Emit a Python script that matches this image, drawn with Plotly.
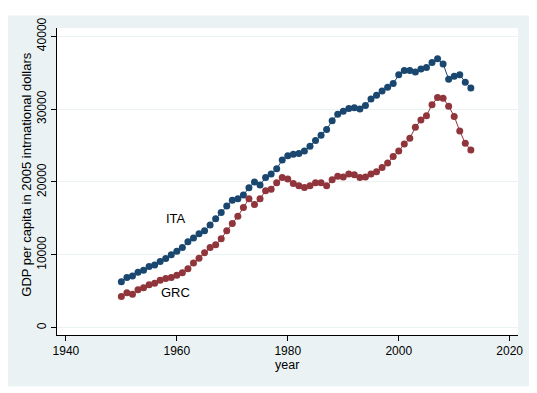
import plotly.graph_objects as go

years = list(range(1950, 2014))
ita = [6300, 6900, 7100, 7600, 7900, 8400, 8600, 9100, 9500, 10000,
       10500, 11000, 11800, 12300, 12900, 13300, 14100, 14950, 15800, 16700,
       17500, 17700, 18200, 19200, 20000, 19600, 20600, 21100, 21800, 23000,
       23600, 23800, 23900, 24250, 24900, 25700, 26400, 27200, 28400, 29300,
       29700, 30100, 30200, 30000, 30500, 31400, 31900, 32500, 33000, 33500,
       34700, 35300, 35300, 35100, 35500, 35700, 36400, 36900, 36200, 34100,
       34500, 34700, 33700, 32900]
grc = [4300, 4800, 4600, 5200, 5500, 5900, 6100, 6500, 6750, 6900,
       7200, 7550, 8100, 8900, 9550, 10300, 11000, 11400, 12200, 13300,
       14300, 15300, 16500, 17700, 16900, 17700, 18800, 19000, 19900, 20600,
       20400, 19800, 19500, 19250, 19500, 19900, 19900, 19500, 20300, 20800,
       20700, 21100, 21000, 20600, 20700, 21100, 21400, 22000, 22600, 23500,
       24250, 25200, 26000, 27500, 28500, 29100, 30600, 31600, 31500, 30400,
       29000, 27000, 25300, 24400]

x_ticks = [1940, 1960, 1980, 2000, 2020]
y_ticks = [0, 10000, 20000, 30000, 40000]

NAVY = "#1a476f"
MAROON = "#90353b"
BG = "#eaf2f3"
FONT = "Liberation Sans, Arial, sans-serif"

fig = go.Figure()
fig.add_trace(go.Scatter(x=years, y=ita, mode="lines+markers", name="ITA",
                         line=dict(color=NAVY, width=1),
                         marker=dict(color=NAVY, size=7, symbol="circle")))
fig.add_trace(go.Scatter(x=years, y=grc, mode="lines+markers", name="GRC",
                         line=dict(color=MAROON, width=1),
                         marker=dict(color=MAROON, size=7, symbol="circle")))

fig.add_annotation(x=1959.9, y=14950, text="ITA", showarrow=False,
                   xanchor="center", yanchor="middle",
                   font=dict(family=FONT, size=13, color="black"))
fig.add_annotation(x=1959.8, y=4800, text="GRC", showarrow=False,
                   xanchor="center", yanchor="middle",
                   font=dict(family=FONT, size=13, color="black"))

# axis titles
fig.add_annotation(xref="paper", yref="paper", x=-0.066, y=0.524,
                   text="GDP per capita in 2005 intrnational dollars",
                   textangle=-90, showarrow=False,
                   xanchor="center", yanchor="middle",
                   font=dict(family=FONT, size=13, color="black"))
fig.add_annotation(xref="paper", yref="paper", x=0.499, y=-0.099,
                   text="year", showarrow=False,
                   xanchor="center", yanchor="middle",
                   font=dict(family=FONT, size=12.5, color="black"))

# outer light panel and white plot region
fig.add_shape(type="rect", xref="paper", yref="paper", x0=-0.1128, x1=1.026,
              y0=-0.1672, y1=1.041, fillcolor=BG, line=dict(width=0), layer="below")
fig.add_shape(type="rect", xref="paper", yref="paper", x0=0, x1=1,
              y0=0, y1=1, fillcolor="white", line=dict(width=0), layer="below")

fig.update_layout(
    width=529, height=385,
    margin=dict(l=49, r=19, t=10, b=58),
    paper_bgcolor="white", plot_bgcolor="white",
    showlegend=False,
    font=dict(family=FONT, size=12, color="black"),
    xaxis=dict(range=[1938.4, 2021.5], tickvals=x_ticks, ticks="outside",
               ticklen=5, tickcolor="black", showline=True, linecolor="black",
               linewidth=1, showgrid=False, zeroline=False,
               tickfont=dict(family=FONT, size=12, color="black")),
    yaxis=dict(range=[-997, 41130], tickvals=y_ticks, tickformat="d",
               ticks="outside", ticklabeloverflow="allow",
               ticklen=5, tickcolor="black", showline=True, linecolor="black",
               linewidth=1, showgrid=True, gridcolor=BG, gridwidth=1,
               zeroline=False, tickangle=-90,
               tickfont=dict(family=FONT, size=12, color="black")),
)

fig.write_html("out.html")
